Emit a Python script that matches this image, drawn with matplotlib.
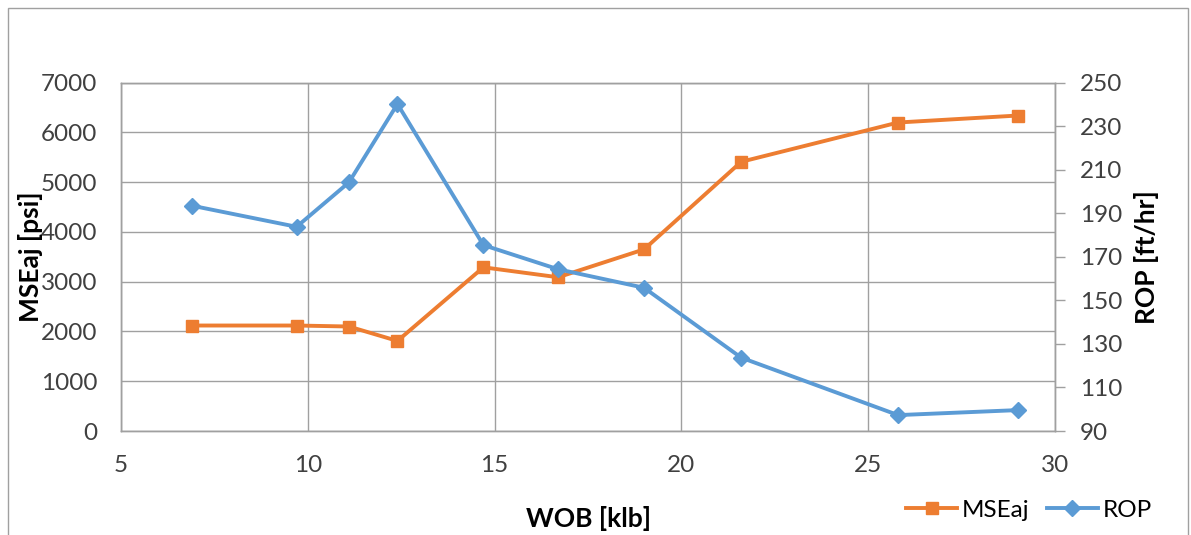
import matplotlib
matplotlib.use('Agg')
import matplotlib.pyplot as plt
from matplotlib.patches import Rectangle
import numpy as np

plt.rcParams['font.family'] = ['Lato', 'DejaVu Sans']

wob = [6.9, 9.7, 11.1, 12.4, 14.7, 16.7, 19.0, 21.6, 25.8, 29.0]
mse = [2120, 2120, 2100, 1810, 3290, 3090, 3650, 5410, 6200, 6340]
rop = [193.5, 183.8, 204.2, 240.2, 175.4, 164.3, 155.8, 123.7, 97.3, 99.6]

orange = '#ED7D31'
blue = '#5B9BD5'
gridc = '#a0a0a0'
tickc = '#404040'

fig = plt.figure(figsize=(11.91, 5.35), dpi=100)
ax = fig.add_axes([121/1191, 1-431/535, 934/1191, 348.3/535])
ax2 = ax.twinx()

l1, = ax.plot(wob, mse, color=orange, lw=2.8, marker='s', ms=9, label='MSEaj')
l2, = ax2.plot(wob, rop, color=blue, lw=2.8, marker='D', ms=8.5, label='ROP')

ax.set_xlim(5, 30)
ax.set_ylim(0, 7000)
ax.set_xticks(np.arange(5, 31, 5))
ax.set_yticks(np.arange(0, 7001, 1000))
ax2.set_ylim(90, 250)
ax2.set_yticks(np.arange(90, 251, 20))

ax.grid(True, color=gridc, lw=1.0)
ax.set_axisbelow(True)
for a in (ax, ax2):
    for s in a.spines.values():
        s.set_color(gridc)
        s.set_linewidth(1.0)
ax.tick_params(axis='both', length=0, labelsize=17.5, labelcolor=tickc, pad=17)
ax2.tick_params(axis='y', length=7, width=1.0, color=gridc, direction='out',
                labelsize=17.5, labelcolor=tickc, pad=11)

ax.set_xlabel('WOB [klb]', fontsize=19, fontweight='bold', va='center')
ax.xaxis.set_label_coords(0.5, -0.25)
ax.set_ylabel('MSEaj [psi]', fontsize=19, fontweight='bold', va='center')
ax.yaxis.set_label_coords(-0.0964, 0.5)
ax2.set_ylabel('ROP [ft/hr]', fontsize=19, fontweight='bold', va='center')
ax2.yaxis.set_label_coords(1.0985, 0.5)

fig.legend(handles=[l1, l2], loc='center right', ncol=2, frameon=False,
           bbox_to_anchor=(1152/1191, 1-510/535), fontsize=17.5,
           handlelength=2.1, handletextpad=0.2, columnspacing=0.7,
           borderaxespad=0, borderpad=0)

fig.patches.append(Rectangle((8/1191, -0.05), 1180/1191, 1.05-8/535,
                             transform=fig.transFigure, fill=False,
                             edgecolor='#a0a0a0', lw=1.0))

fig.savefig('out.png', dpi=100)
